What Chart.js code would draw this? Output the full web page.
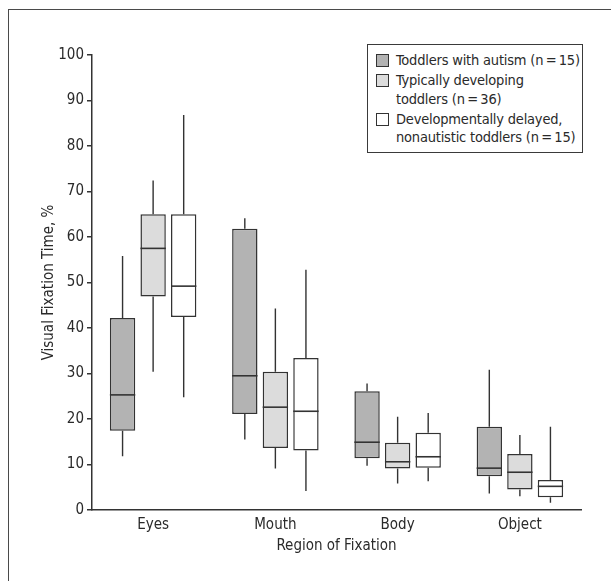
<!DOCTYPE html>
<html>
<head>
<meta charset="utf-8">
<script src="https://cdn.jsdelivr.net/npm/chart.js@4"></script>
<style>
  body { margin: 0; background: #fff; }
  #wrap { position: relative; width: 611px; height: 581px; overflow: hidden; }
  #frame { position: absolute; left: 8px; top: 9px; width: 700px; height: 700px;
    border-left: 1.5px solid #4a4a4a; border-top: 1.5px solid #4a4a4a; }
  #legend { position: absolute; left: 367px; top: 44px; width: 214px; height: 107px;
    border: 1.5px solid #3a3a3a; background: #fff;
    font-family: 'Liberation Sans Narrow', 'DejaVu Sans Condensed', sans-serif;
    font-size: 14.5px; letter-spacing: -0.2px; line-height: 18.5px; color: #2a2a2a; }
  .item { position: absolute; left: 8px; padding-left: 20px; white-space: nowrap; }
  .swatch { position: absolute; left: 0; top: 3px; width: 11px; height: 11px; border: 1.5px solid #333; }
</style>
</head>
<body>
<div id="wrap">
  <div id="frame"></div>
  <canvas id="chart" width="611" height="581"></canvas>
  <div id="legend"></div>
</div>
<script>
const categories = ['Eyes', 'Mouth', 'Body', 'Object']
const groupLabels = [
  ['Toddlers with autism (n\u2009=\u200915)'],
  ['Typically developing', 'toddlers (n\u2009=\u200936)'],
  ['Developmentally delayed,', 'nonautistic toddlers (n\u2009=\u200915)']
]
const groupColors = ['#b3b3b3', '#dcdcdc', '#ffffff']

// box plot statistics per region: whisker low, Q1, median, Q3, whisker high
const autismMin = [11.8, 15.5, 9.7, 3.6]
const autismQ1 = [17.4, 21.1, 11.4, 7.4]
const autismMedian = [25.3, 29.5, 14.9, 9.2]
const autismQ3 = [42.2, 61.8, 26.1, 18.3]
const autismMax = [55.8, 64.1, 27.8, 30.8]

const typicalMin = [30.4, 9.1, 5.8, 3.0]
const typicalQ1 = [46.9, 13.6, 9.1, 4.5]
const typicalMedian = [57.5, 22.6, 10.6, 8.3]
const typicalQ3 = [65.0, 30.4, 14.8, 12.3]
const typicalMax = [72.4, 44.3, 20.5, 16.5]

const delayedMin = [24.8, 4.2, 6.3, 1.6]
const delayedQ1 = [42.4, 13.1, 9.3, 2.8]
const delayedMedian = [49.2, 21.7, 11.7, 5.2]
const delayedQ3 = [65.0, 33.4, 17.0, 6.6]
const delayedMax = [86.8, 52.8, 21.3, 18.3]

const yTicks = [0, 10, 20, 30, 40, 50, 60, 70, 80, 90, 100]

const FONT = "'Liberation Sans Narrow', 'DejaVu Sans Condensed', sans-serif"
const INK = '#333333'
const TEXT = '#2a2a2a'

const makeBoxes = (label, color, min, q1, median, q3, max) => ({
  label,
  data: q1.map((v, i) => [v, q3[i]]),
  min,
  median,
  max,
  backgroundColor: color,
  borderColor: INK,
  borderWidth: 1.5,
  borderSkipped: false,
  categoryPercentage: 0.75,
  barPercentage: 0.83
})

const whiskerPlugin = {
  id: 'whiskers',
  afterDatasetsDraw(chart) {
    const { ctx } = chart
    const y = chart.scales.y
    chart.data.datasets.forEach((ds, di) => {
      const meta = chart.getDatasetMeta(di)
      meta.data.forEach((bar, i) => {
        const [q1, q3] = ds.data[i]
        const half = bar.width / 2
        ctx.save()
        ctx.strokeStyle = INK
        ctx.lineWidth = 1.4
        ctx.beginPath()
        ctx.moveTo(bar.x, y.getPixelForValue(q3))
        ctx.lineTo(bar.x, y.getPixelForValue(ds.max[i]))
        ctx.moveTo(bar.x, y.getPixelForValue(q1))
        ctx.lineTo(bar.x, y.getPixelForValue(ds.min[i]))
        ctx.stroke()
        ctx.lineWidth = 1.6
        ctx.beginPath()
        ctx.moveTo(bar.x - half, y.getPixelForValue(ds.median[i]))
        ctx.lineTo(bar.x + half, y.getPixelForValue(ds.median[i]))
        ctx.stroke()
        ctx.restore()
      })
    })
  }
}

const datasets = [
  makeBoxes(groupLabels[0].join(' '), groupColors[0], autismMin, autismQ1, autismMedian, autismQ3, autismMax),
  makeBoxes(groupLabels[1].join(' '), groupColors[1], typicalMin, typicalQ1, typicalMedian, typicalQ3, typicalMax),
  makeBoxes(groupLabels[2].join(' '), groupColors[2], delayedMin, delayedQ1, delayedMedian, delayedQ3, delayedMax)
]

new Chart(document.getElementById('chart'), {
  type: 'bar',
  data: { labels: categories, datasets },
  plugins: [whiskerPlugin],
  options: {
    responsive: false,
    animation: false,
    layout: { padding: { top: 55, right: 30, left: 0, bottom: 0 } },
    plugins: {
      legend: { display: false },
      tooltip: { enabled: false }
    },
    scales: {
      x: {
        grid: { display: false, drawTicks: false },
        border: { display: true, color: INK, width: 1.5 },
        ticks: { color: TEXT, font: { family: FONT, size: 15 }, padding: 6 },
        title: {
          display: true,
          text: 'Region of Fixation',
          color: TEXT,
          font: { family: FONT, size: 15 },
          padding: { top: 2, bottom: 26 }
        },
        afterFit: scale => { scale.height = 71 }
      },
      y: {
        min: 0,
        max: 100,
        afterBuildTicks: scale => { scale.ticks = yTicks.map(value => ({ value })) },
        grid: { drawOnChartArea: false, tickLength: 5, color: INK, lineWidth: 1.5 },
        border: { display: true, color: INK, width: 1.5 },
        ticks: { color: TEXT, font: { family: FONT, size: 15 }, padding: 3 },
        title: {
          display: true,
          text: 'Visual Fixation Time, %',
          color: TEXT,
          font: { family: FONT, size: 15 },
          padding: { top: 40, bottom: 0 }
        },
        afterFit: scale => { scale.width = 92 }
      }
    }
  }
})

// legend box, drawn as HTML over the plot area
const legendEl = document.getElementById('legend')
let rowTop = 6
groupLabels.forEach((lines, i) => {
  const item = document.createElement('div')
  item.className = 'item'
  item.style.top = rowTop + 'px'
  item.innerHTML = '<span class="swatch" style="background:' + groupColors[i] + '"></span>' + lines.join('<br>')
  legendEl.appendChild(item)
  rowTop += lines.length * 18.5 + 1.5
})
</script>
</body>
</html>
